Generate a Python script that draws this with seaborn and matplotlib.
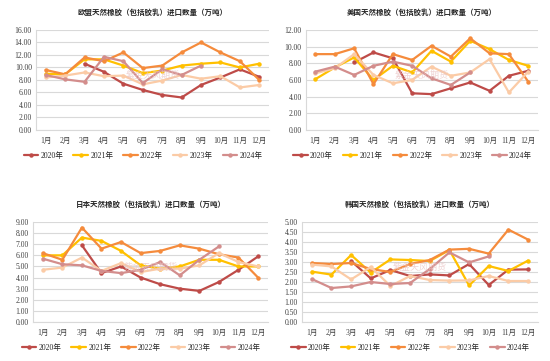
import numpy as np
import pandas as pd
import matplotlib
matplotlib.use('Agg')
import matplotlib.pyplot as plt
import seaborn as sns

nan = np.nan
months = ['1月', '2月', '3月', '4月', '5月', '6月', '7月', '8月', '9月', '10月', '11月', '12月']
years = ['2020年', '2021年', '2022年', '2023年', '2024年']
colors = ['#BE4B48', '#FFC000', '#F58B3C', '#FBCBA6', '#D38D8C']

eu_2020 = [nan, nan, 10.6, 9.3, 7.4, 6.4, 5.6, 5.2, 7.2, 8.4, 9.7, 8.5]
eu_2021 = [9.0, 8.9, 11.3, 11.3, 10.3, 9.1, 9.5, 10.3, 10.6, 10.8, 10.0, 10.6]
eu_2022 = [9.6, 8.9, 11.6, 11.0, 12.4, 9.9, 10.3, 12.4, 14.0, 12.4, 11.0, 8.0]
eu_2023 = [8.4, 8.7, 9.2, 8.6, 8.7, 7.3, 7.9, 8.8, 8.2, 8.6, 6.8, 7.2]
eu_2024 = [8.8, 8.1, 7.7, 11.7, 11.0, 7.5, 9.7, 8.8, 10.3, nan, nan, nan]

us_2020 = [nan, nan, 8.1, 9.3, 8.6, 4.4, 4.3, 5.0, 5.7, 4.7, 6.5, 7.1]
us_2021 = [6.1, 7.5, 8.7, 6.0, 7.7, 6.9, 9.5, 8.2, 10.7, 9.7, 8.4, 7.7]
us_2022 = [9.1, 9.1, 9.8, 5.5, 9.1, 8.4, 10.1, 8.8, 11.0, 9.2, 9.1, 5.8]
us_2023 = [6.8, 7.4, 9.1, 6.6, 5.6, 6.0, 7.6, 6.5, 6.9, 8.5, 4.5, 7.0]
us_2024 = [7.0, 7.6, 6.6, 7.7, 8.2, 7.7, 6.2, 5.4, 6.9, nan, nan, nan]

jp_2020 = [nan, nan, 6.9, 4.4, 5.0, 4.0, 3.4, 3.0, 2.8, 3.6, 4.7, 5.9]
jp_2021 = [6.0, 6.0, 7.6, 7.3, 6.4, 5.1, 4.8, 5.0, 5.6, 5.6, 5.0, 5.0]
jp_2022 = [6.2, 5.6, 8.5, 6.6, 7.2, 6.2, 6.4, 6.9, 6.6, 6.1, 5.8, 4.0]
jp_2023 = [4.7, 4.9, 5.8, 4.6, 5.3, 4.5, 4.8, 4.8, 5.1, 6.2, 5.4, 5.0]
jp_2024 = [5.7, 5.2, 5.1, 4.6, 4.4, 4.7, 5.4, 4.2, 5.6, 6.8, nan, nan]

kr_2020 = [nan, nan, 3.05, 2.18, 2.6, 2.3, 2.38, 2.33, 2.9, 1.85, 2.62, 2.63]
kr_2021 = [2.52, 2.37, 3.35, 2.47, 3.13, 3.1, 3.05, 3.6, 1.83, 2.8, 2.55, 3.07]
kr_2022 = [2.95, 2.9, 2.95, 2.65, 2.5, 2.9, 3.1, 3.62, 3.66, 3.42, 4.62, 4.12]
kr_2023 = [2.87, 2.78, 2.13, 2.75, 1.8, 2.3, 2.1, 2.07, 2.08, 2.3, 2.05, 2.05]
kr_2024 = [2.15, 1.7, 1.78, 2.0, 1.9, 1.95, 2.65, 3.48, 2.98, 3.28, nan, nan]

panels = [
    ('欧盟天然橡胶（包括胶乳）进口数量（万吨）', [eu_2020, eu_2021, eu_2022, eu_2023, eu_2024], 16, 2),
    ('美国天然橡胶（包括胶乳）进口数量（万吨）', [us_2020, us_2021, us_2022, us_2023, us_2024], 12, 2),
    ('日本天然橡胶（包括胶乳）进口数量（万吨）', [jp_2020, jp_2021, jp_2022, jp_2023, jp_2024], 9, 1),
    ('韩国天然橡胶（包括胶乳）进口数量（万吨）', [kr_2020, kr_2021, kr_2022, kr_2023, kr_2024], 5, 0.5),
]
# axes rectangles in figure fractions
rects = [
    [0.0655, 0.640, 0.4236, 0.277],
    [0.5560, 0.640, 0.4220, 0.277],
    [0.0600, 0.108, 0.4270, 0.277],
    [0.5490, 0.108, 0.4290, 0.277],
]

sns.set_style('white')
plt.rcParams['font.family'] = ['Liberation Serif', 'Noto Sans CJK SC', 'DejaVu Sans']


def to_frame(series):
    rows = []
    for year, vals in zip(years, series):
        for i, v in enumerate(vals):
            rows.append({'month': i + 1, 'value': v, 'year': year})
    return pd.DataFrame(rows).dropna()


def plot_panel(fig, rect, title, series, ymax, step):
    ax = fig.add_axes(rect)
    df = to_frame(series)
    sns.lineplot(ax=ax, data=df, x='month', y='value', hue='year', hue_order=years,
                 palette=colors, marker='o', markersize=3.2, markeredgewidth=0,
                 linewidth=1.6, legend=False)
    ax.set_xlim(0.5, 12.5)
    ax.set_ylim(0, ymax)
    ticks = np.arange(0, ymax + step / 2, step)
    ax.set_yticks(ticks)
    ax.set_yticklabels(['{:.2f}'.format(t) for t in ticks])
    ax.set_xticks(range(1, 13))
    ax.set_xticklabels(months)
    ax.tick_params(axis='both', labelsize=5.5, length=0, colors='#404040')
    ax.tick_params(axis='x', pad=5)
    ax.tick_params(axis='y', pad=3)
    ax.grid(axis='y', color='#D9D9D9', linewidth=0.8)
    ax.set_axisbelow(True)
    for s in ['top', 'right']:
        ax.spines[s].set_visible(False)
    for s in ['left', 'bottom']:
        ax.spines[s].set_color('#D9D9D9')
        ax.spines[s].set_linewidth(0.8)
    ax.set_xlabel('')
    ax.set_ylabel('')
    ax.set_title(title, fontsize=5.4, fontweight='bold', color='#262626', pad=11,
                 family=['Noto Sans CJK SC', 'DejaVu Sans'])
    ax.text(0.5, 0.55, '紫金天风期货', transform=ax.transAxes, fontsize=6.5,
            color='#E8C0C0', alpha=0.7, ha='center', va='center',
            family=['Noto Sans CJK SC', 'DejaVu Sans'])
    handles = [plt.Line2D([], [], color=c, marker='o', markersize=3.2, markeredgewidth=0,
                          linewidth=1.6) for c in colors]
    ax.legend(handles, years, loc='upper center', bbox_to_anchor=(0.46, -0.19), ncol=5,
              frameon=False, fontsize=5.5, handlelength=1.9, columnspacing=1.3,
              handletextpad=0.3, borderaxespad=0)
    return ax


fig = plt.figure(figsize=(5.5, 3.61), dpi=100)
for rect, (title, series, ymax, step) in zip(rects, panels):
    plot_panel(fig, rect, title, series, ymax, step)
fig.savefig('out.png', dpi=100, facecolor='white')
